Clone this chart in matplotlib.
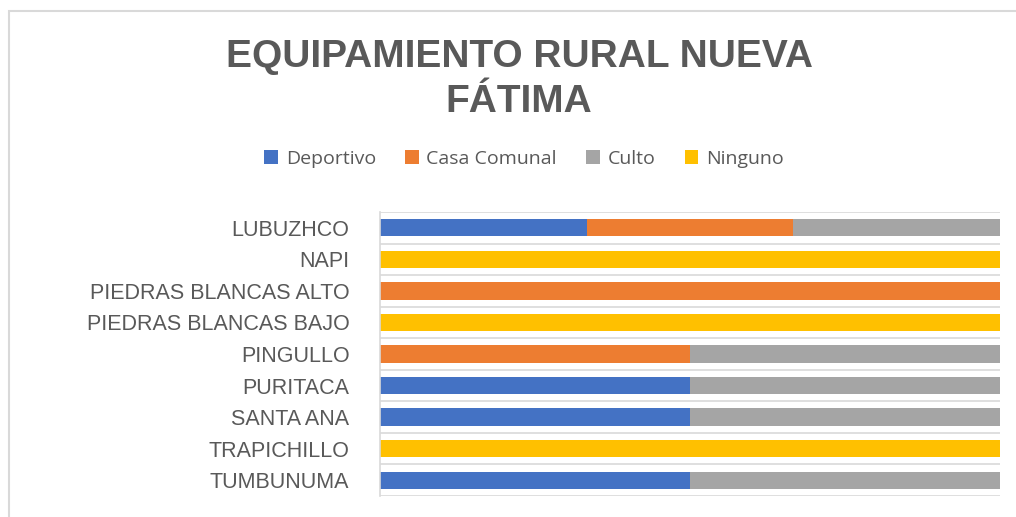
import matplotlib
matplotlib.use("Agg")
import matplotlib.pyplot as plt
import numpy as np
from matplotlib.patches import Rectangle

# datos (conteo de equipamiento por comunidad)
comunidades = ["LUBUZHCO", "NAPI", "PIEDRAS BLANCAS ALTO", "PIEDRAS BLANCAS BAJO",
               "PINGULLO", "PURITACA", "SANTA ANA", "TRAPICHILLO", "TUMBUNUMA"]
deportivo = [1, 0, 0, 0, 0, 1, 1, 0, 1]
casa_comunal = [1, 0, 1, 0, 1, 0, 0, 0, 0]
culto = [1, 0, 0, 0, 1, 1, 1, 0, 1]
ninguno = [0, 1, 0, 1, 0, 0, 0, 1, 0]

series = [("Deportivo", deportivo, "#4472C4"),
          ("Casa Comunal", casa_comunal, "#ED7D31"),
          ("Culto", culto, "#A5A5A5"),
          ("Ninguno", ninguno, "#FFC000")]

gris = "#595959"
W, H = 1016, 517

fig = plt.figure(figsize=(W / 100, H / 100), dpi=100)
ax = fig.add_axes([380 / W, 1 - 496 / H, 620 / W, 284 / H])

total = np.sum([np.array(s[1]) for s in series], axis=0)
y = np.arange(len(comunidades))
left = np.zeros(len(comunidades))
for nombre, vals, color in series:
    frac = np.array(vals) / total
    ax.barh(y, frac, left=left, height=0.55, color=color, label=nombre)
    left += frac

ax.set_xlim(0, 1)
ax.set_ylim(len(comunidades) - 0.5, -0.5)
ax.set_yticks(y)
ax.set_yticklabels(comunidades, family="Liberation Sans", fontsize=15.5, color=gris)
ax.tick_params(axis="y", length=0, pad=22)
ax.set_xticks([])
for yy in np.arange(-0.5, len(comunidades), 1.0):
    ax.axhline(yy, color="#D9D9D9", lw=1.2, zorder=0)
for s in ["top", "right", "bottom"]:
    ax.spines[s].set_visible(False)
ax.spines["left"].set_color("#D9D9D9")
ax.spines["left"].set_linewidth(1.2)

fig.text(519 / W, 1 - 39 / H, "EQUIPAMIENTO RURAL NUEVA\nFÁTIMA", ha="center", va="top",
         family="Liberation Sans", fontweight="bold", fontsize=28, color=gris,
         linespacing=1.33)

leg = fig.legend(loc="center", bbox_to_anchor=(524 / W, 1 - 159 / H), ncol=4, frameon=False,
                 prop={"family": "Open Sans", "size": 14}, handlelength=0.7, handleheight=0.7,
                 handletextpad=0.4, columnspacing=1.5)
for t in leg.get_texts():
    t.set_color(gris)

# borde del area del grafico
fig.patches.append(Rectangle((9 / W, -0.1), 1.2, 1.1 - 11 / H, transform=fig.transFigure,
                             fill=False, edgecolor="#D9D9D9", lw=1.5))

fig.savefig("out.png", dpi=100)
